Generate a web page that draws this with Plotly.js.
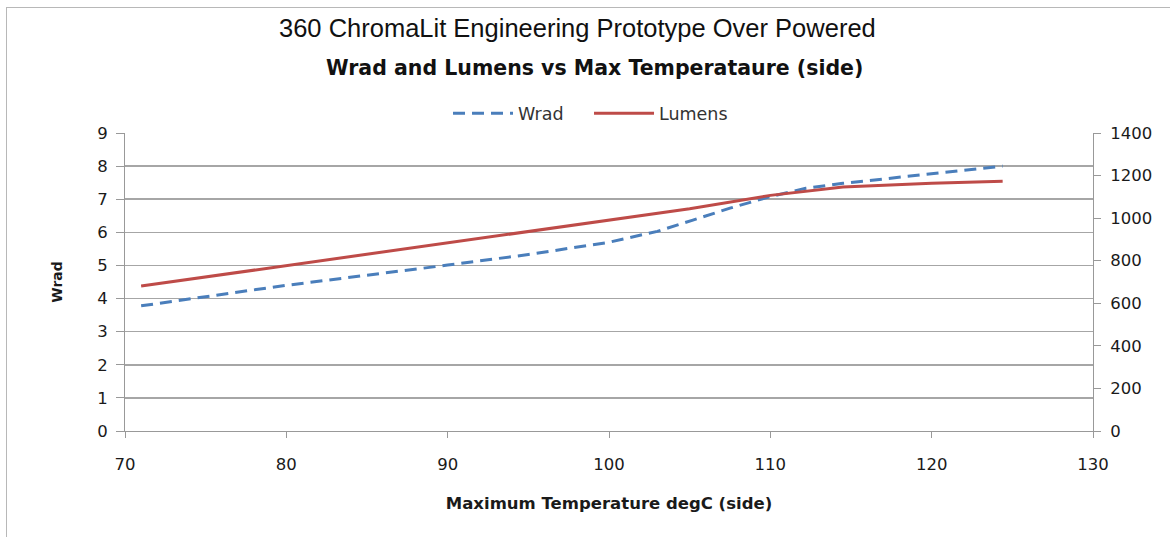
<!DOCTYPE html>
<html>
<head>
<meta charset="utf-8">
<script src="https://cdn.plot.ly/plotly-3.0.1.min.js"></script>
<style>
html,body{margin:0;padding:0;background:#fff;}
#chart{width:1170px;height:537px;}
#frame{position:absolute;left:6px;top:7px;width:1300px;height:700px;border-left:1px solid #b8b8b8;border-top:1px solid #b8b8b8;pointer-events:none;}
</style>
</head>
<body>
<div id="chart"></div>
<div id="frame"></div>
<script>
const wradTemp = [71, 80, 90, 95, 100, 103, 105.2, 107.5, 110, 112.2, 114.5, 120, 124.4];
const wradValues = [3.78, 4.40, 5.01, 5.33, 5.70, 6.03, 6.37, 6.73, 7.08, 7.33, 7.48, 7.78, 8.0];
const lumTemp = [71, 80, 90, 100, 105, 110, 114.5, 120, 124.4];
const lumValues = [681, 777, 885, 991, 1044, 1107, 1146, 1164, 1173];
const xTicks = [70, 80, 90, 100, 110, 120, 130];
const yLeftTicks = [0, 1, 2, 3, 4, 5, 6, 7, 8, 9];
const yRightTicks = [0, 200, 400, 600, 800, 1000, 1200, 1400];

const FONT = '"DejaVu Sans", "Noto Sans", sans-serif';
const tickFont = {family: FONT, size: 16.5, color: '#1a1a1a'};

const traces = [
  {x: wradTemp, y: wradValues, name: 'Wrad', type: 'scatter', mode: 'lines',
   line: {color: '#4a7ebb', width: 3, dash: '12px,7px'}, yaxis: 'y'},
  {x: lumTemp, y: lumValues, name: 'Lumens', type: 'scatter', mode: 'lines',
   line: {color: '#be4b48', width: 3}, yaxis: 'y2'}
];

const layout = {
  width: 1170, height: 537,
  margin: {l: 125, r: 77, t: 133, b: 106},
  paper_bgcolor: '#fff', plot_bgcolor: '#fff',
  showlegend: true,
  legend: {orientation: 'h', x: 0.3337, xanchor: 'left', y: 1.066, yanchor: 'middle',
           font: {family: FONT, size: 17.5, color: '#333'},
           itemwidth: 60, entrywidth: 66, entrywidthmode: 'pixels', bgcolor: 'rgba(0,0,0,0)'},
  xaxis: {range: [70, 130], tickvals: xTicks, ticks: 'outside', ticklen: 6, tickcolor: '#999',
          ticklabelstandoff: 12,
          showline: true, linecolor: '#999', linewidth: 1, showgrid: false, zeroline: false,
          tickfont: tickFont,
          title: {text: 'Maximum Temperature degC (side)', standoff: 24,
                  font: {family: FONT, size: 16.5, color: '#1a1a1a', weight: 'bold'}}},
  yaxis: {range: [0, 9], tickvals: yLeftTicks, ticks: 'outside', ticklen: 8, tickcolor: '#999',
          ticklabelstandoff: 5,
          showline: true, linecolor: '#999', linewidth: 1, showgrid: true, gridcolor: '#a6a6a6', gridwidth: 1.5,
          zeroline: false, tickfont: tickFont,
          title: {text: 'Wrad', standoff: 31,
                  font: {family: FONT, size: 14, color: '#1a1a1a', weight: 'bold'}}},
  yaxis2: {range: [0, 1400], tickvals: yRightTicks, overlaying: 'y', side: 'right', ticks: 'outside',
           ticklen: 7, tickcolor: '#999', ticklabelstandoff: 6, showline: true, linecolor: '#999', linewidth: 1,
           showgrid: false, zeroline: false, tickfont: tickFont},
  annotations: [
    {text: '360 ChromaLit Engineering Prototype Over Powered', xref: 'paper', yref: 'paper',
     x: 0.467, y: 1.352, xanchor: 'center', yanchor: 'middle', showarrow: false,
     font: {family: '"Liberation Sans", Arial, sans-serif', size: 25.5, color: '#111'}},
    {text: '<b>Wrad and Lumens vs Max Temperataure (side)</b>', xref: 'paper', yref: 'paper',
     x: 0.485, y: 1.218, xanchor: 'center', yanchor: 'middle', showarrow: false,
     font: {family: FONT, size: 20.5, color: '#111'}}
  ]
};

Plotly.newPlot('chart', traces, layout, {displayModeBar: false, staticPlot: true});
</script>
</body>
</html>
